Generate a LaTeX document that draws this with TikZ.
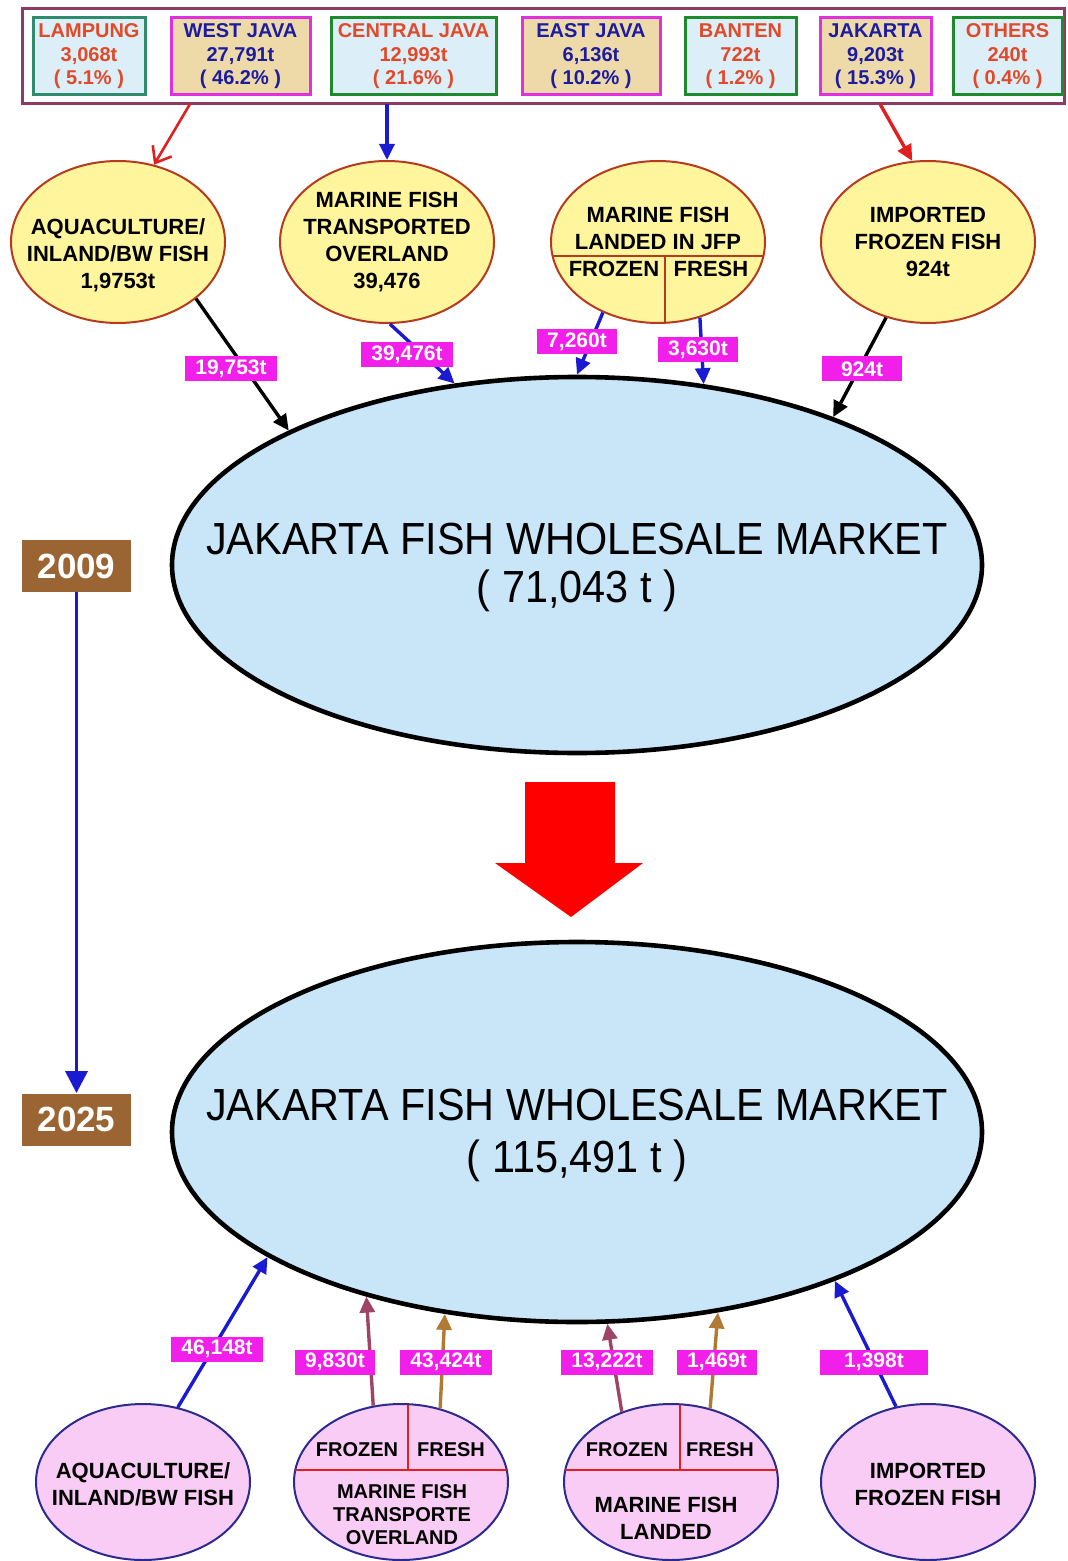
\documentclass[tikz,border=0pt]{standalone}
\usepackage{fontspec}
\setmainfont{Liberation Sans}
\newfontfamily\narrowsans[FakeStretch=0.92]{Liberation Sans}
\usetikzlibrary{shapes.geometric,arrows.meta}
\definecolor{framemaroon}{HTML}{8E3B63}
\definecolor{boxblue}{HTML}{DCEEF8}
\definecolor{boxtan}{HTML}{EED9A8}
\definecolor{boxgreen}{HTML}{1E8A2E}
\definecolor{boxteal}{HTML}{2E8B6E}
\definecolor{boxmagenta}{HTML}{E030E0}
\definecolor{srcred}{HTML}{E04A28}
\definecolor{srcblue}{HTML}{1C1CA0}
\definecolor{ballyellow}{HTML}{FFF59D}
\definecolor{ballred}{HTML}{B83A1E}
\definecolor{marketblue}{HTML}{C8E6F8}
\definecolor{qtymagenta}{HTML}{F21EEA}
\definecolor{yearbrown}{HTML}{9A6532}
\definecolor{pinkfill}{HTML}{F8CCF4}
\definecolor{pinkedge}{HTML}{2A2A90}
\definecolor{flowred}{HTML}{E02020}
\definecolor{flowblue}{HTML}{1A1AD0}
\definecolor{flowmaroon}{HTML}{9E4466}
\definecolor{flowtan}{HTML}{B07A35}
\tikzset{
  srcbox/.style={draw, line width=1.5pt, minimum height=38.5pt, inner sep=0pt, align=center,
    font=\bfseries\fontsize{10}{11.75}\selectfont},
  bluebox/.style={srcbox, fill=boxblue, text=srcred},
  tanbox/.style={srcbox, fill=boxtan, draw=boxmagenta, text=srcblue},
  yellowball/.style={ellipse, draw=ballred, line width=1pt, fill=ballyellow,
    minimum width=107pt, minimum height=81pt, inner sep=0pt},
  pinkball/.style={ellipse, draw=pinkedge, line width=1pt, fill=pinkfill,
    minimum width=107pt, minimum height=78pt, inner sep=0pt},
  market/.style={ellipse, draw=black, line width=2.3pt, fill=marketblue, minimum width=405pt, inner sep=0pt},
  balltxt/.style={align=center, font=\bfseries\fontsize{11}{13.5}\selectfont},
  smalltxt/.style={align=center, font=\bfseries\fontsize{10}{11.5}\selectfont},
  markettxt/.style={align=center, font=\narrowsans\fontsize{22.5}{24}\selectfont},
  qty/.style={fill=qtymagenta, text=white, font=\bfseries\fontsize{10.5}{12}\selectfont,
    minimum width=40pt, minimum height=12.5pt, inner xsep=5pt, inner ysep=0pt},
  yearbox/.style={fill=yearbrown, text=white, font=\bfseries\fontsize{17.5}{20}\selectfont,
    minimum width=54.5pt, minimum height=26pt, inner sep=0pt},
  flow/.style={line width=1.7pt, -{Triangle[length=8pt,width=7.5pt]}},
  split/.style={line width=0.8pt},
}
\begin{document}
\begin{tikzpicture}[x=0.5pt,y=-0.5pt]
\useasboundingbox (0,0) rectangle (1067,1561);

% sources
\node[draw=framemaroon, line width=1.5pt, minimum width=521pt, minimum height=47.5pt, inner sep=0pt] (srcframe) at (543,56.5) {};
\node[bluebox, draw=boxteal, minimum width=56pt] (lampung) at (89,56.5) {LAMPUNG\\3,068t\\( 5.1\% )};
\node[tanbox, minimum width=69.5pt] (westjava) at (240.5,56.5) {WEST JAVA\\27,791t\\( 46.2\% )};
\node[bluebox, draw=boxgreen, minimum width=82.5pt] (centraljava) at (413.5,56.5) {CENTRAL JAVA\\12,993t\\( 21.6\% )};
\node[tanbox, minimum width=69pt] (eastjava) at (591,56.5) {EAST JAVA\\6,136t\\( 10.2\% )};
\node[bluebox, draw=boxgreen, minimum width=55.5pt] (banten) at (740.5,56.5) {BANTEN\\722t\\( 1.2\% )};
\node[tanbox, minimum width=55.5pt] (jakarta) at (875.5,56.5) {JAKARTA\\9,203t\\( 15.3\% )};
\node[bluebox, draw=boxgreen, minimum width=54.5pt] (others) at (1007.5,56.5) {OTHERS\\240t\\( 0.4\% )};

\coordinate (wj-out) at (190,104);
\coordinate (cj-out) at (387,104);
\coordinate (jk-out) at (880,104);

% 2009 supply
\node[yellowball] (aqua) at (118,242) {};
\node[balltxt] (aquatxt) at (118,255.5) {AQUACULTURE/\\INLAND/BW FISH\\1,9753t};
\node[yellowball] (overland) at (387,242) {};
\node[balltxt] (overlandtxt) at (387,242) {MARINE FISH\\TRANSPORTED\\OVERLAND\\39,476};
\node[yellowball] (jfp) at (658,242) {};
\begin{scope}
  \clip (658,242) ellipse [x radius=107, y radius=80.5];
  \draw[split, ballred] (540,256) -- (780,256) (665,256) -- (665,330);
\end{scope}
\node[balltxt] (jfptxt) at (658,228.5) {MARINE FISH\\LANDED IN JFP};
\node[balltxt] (jfpfrozen) at (614,269) {FROZEN};
\node[balltxt] (jfpfresh) at (711,269) {FRESH};
\node[yellowball] (import) at (928,242) {};
\node[balltxt] (importtxt) at (928,242) {IMPORTED\\FROZEN FISH\\924t};

\draw[flowred, line width=1.3pt, -{Straight Barb[length=7pt,width=11pt]}] (wj-out) -- (aqua.65);
\draw[flowblue, flow] (cj-out) -- (overland.north);
\draw[flowred, flow] (jk-out) -- (import.101);

\node[market, minimum height=188pt] (mk) at (577,565) {};
\node[markettxt] (mktxt) at (577,567) {JAKARTA FISH WHOLESALE MARKET\\( 71,043 t )};

\draw[flow, black] (aqua.-36) -- (mk.155);
\draw[flow, flowblue] (overland.-88) -- (mk.124.6);
\draw[flow, flowblue] (jfp.-128.5) -- (mk.90);
\draw[flow, flowblue] (jfp.-61) -- (mk.55.3);
\draw[flow, black] (import.-119.8) -- (mk.30.4);

\node[qty] (q1) at (231,369) {19,753t};
\node[qty] (q2) at (407,355) {39,476t};
\node[qty] (q3) at (577,342) {7,260t};
\node[qty] (q4) at (698,350) {3,630t};
\node[qty] (q5) at (862,369) {924t};

% change
\fill[red] (525,782) -- (615,782) -- (615,863) -- (643,863) -- (571,917) -- (495,863) -- (525,863) -- cycle;

\node[yearbox] (y2009) at (76.5,566) {2009};
\node[yearbox] (y2025) at (76.5,1119.5) {2025};
\draw[flowblue, line width=1.7pt, -{Triangle[length=11pt,width=11pt]}] (y2009) -- (y2025);

% 2025 supply
\node[market, minimum height=190pt] (mk2) at (577,1132) {};
\node[markettxt, font=\narrowsans\fontsize{22.5}{26}\selectfont] (mk2txt) at (577,1135) {JAKARTA FISH WHOLESALE MARKET\\( 115,491 t )};

\node[pinkball] (aqua2) at (143,1482) {};
\node[balltxt] (aqua2txt) at (143,1484.5) {AQUACULTURE/\\INLAND/BW FISH};
\node[pinkball] (overland2) at (401,1482) {};
\node[pinkball] (landed2) at (671,1482) {};
\begin{scope}
  \clip (401,1482) ellipse [x radius=107, y radius=77.5];
  \draw[split, flowred] (280,1470) -- (520,1470) (408,1400) -- (408,1470);
\end{scope}
\begin{scope}
  \clip (671,1482) ellipse [x radius=107, y radius=77.5];
  \draw[split, flowred] (550,1470) -- (790,1470) (680,1400) -- (680,1470);
\end{scope}
\node[smalltxt] (ov2frozen) at (357,1450) {FROZEN};
\node[smalltxt] (ov2fresh) at (451,1450) {FRESH};
\node[smalltxt] (ov2txt) at (402,1515) {MARINE FISH\\TRANSPORTE\\OVERLAND};
\node[smalltxt] (ld2frozen) at (627,1450) {FROZEN};
\node[smalltxt] (ld2fresh) at (720,1450) {FRESH};
\node[balltxt] (ld2txt) at (666,1518.5) {MARINE FISH\\LANDED};
\node[pinkball] (import2) at (928,1482) {};
\node[balltxt] (import2txt) at (928,1484.5) {IMPORTED\\FROZEN FISH};

\draw[flow, flowblue] (aqua2.65.6) -- (mk2.-158.3);
\draw[flow, flowmaroon] (overland2.110.6) -- (mk2.-142.8);
\draw[flow, flowtan] (overland2.62.2) -- (mk2.-126.1);
\draw[flow, flowmaroon] (landed2.125.8) -- (mk2.-81.9);
\draw[flow, flowtan] (landed2.62.5) -- (mk2.-52);
\draw[flow, flowblue] (import2.113.5) -- (mk2.-30.1);

\node[qty] (p1) at (217,1349) {46,148t};
\node[qty] (p2) at (335,1362) {9,830t};
\node[qty] (p3) at (446,1362) {43,424t};
\node[qty] (p4) at (607,1362) {13,222t};
\node[qty] (p5) at (717,1362) {1,469t};
\node[qty, minimum width=54pt] (p6) at (874,1362) {1,398t};
\end{tikzpicture}
\end{document}
